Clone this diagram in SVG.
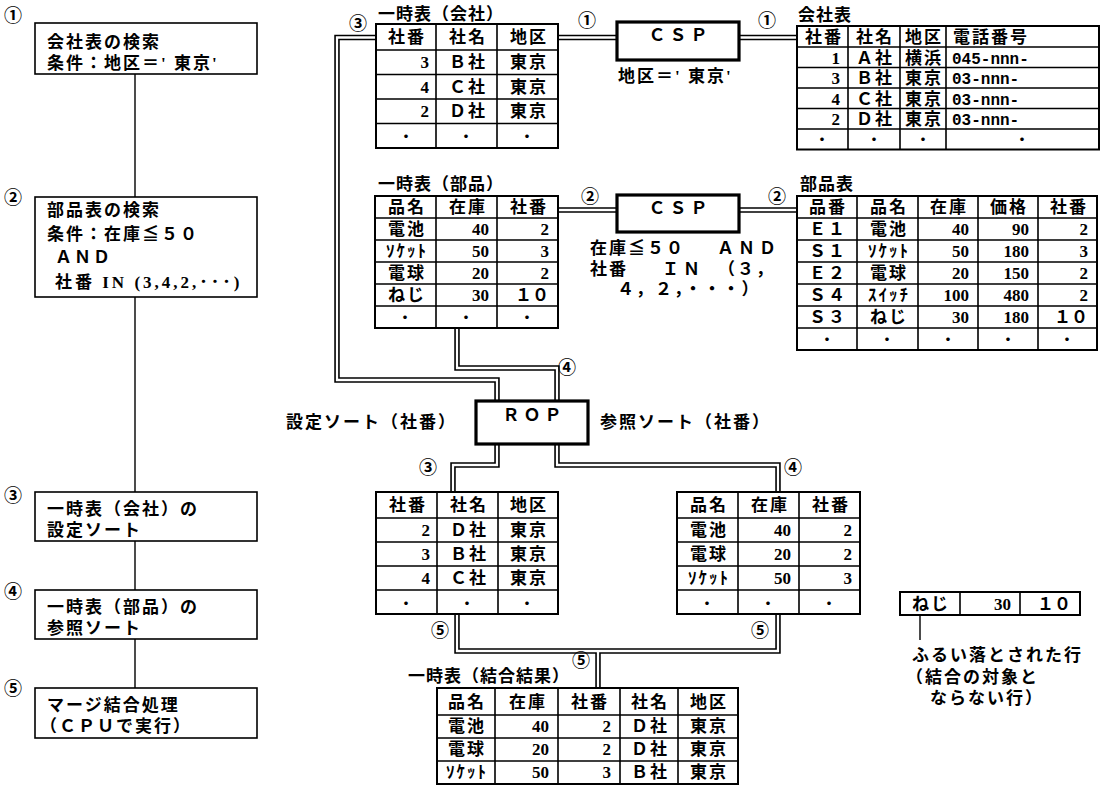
<svg xmlns="http://www.w3.org/2000/svg" width="1105" height="788" viewBox="0 0 1105 788">
<style>
text{font-family:"Liberation Serif","Noto Sans CJK JP",serif;font-size:17px;font-weight:bold;fill:#000}
.j{letter-spacing:2px}
.k{letter-spacing:1px}
.w{letter-spacing:4px}
.c{text-anchor:middle}
.r{text-anchor:end}
.m{font-family:"Liberation Mono","Noto Sans CJK JP",monospace;font-size:16px}
.n{font-family:"Noto Sans CJK JP",sans-serif;font-size:18px;font-weight:bold}
.d{font-family:"Noto Sans CJK JP",sans-serif;font-size:14px}
.box{fill:#fff;stroke:#000;stroke-width:1.6}
.op{fill:#fff;stroke:#000;stroke-width:3.2}
.tb{fill:#fff;stroke:#000;stroke-width:2}
.gr{stroke:#000;stroke-width:1.6;fill:none}
.ln{stroke:#000;stroke-width:1.4;fill:none}
.dbo{fill:none;stroke:#000;stroke-width:5.5}
.dbi{fill:none;stroke:#fff;stroke-width:2.3}
</style>
<defs>
<path id="p1" d="M376 37.5H337V380H497V401"/>
<path id="p2" d="M558 37.5H617"/>
<path id="p3" d="M739 37.5H797"/>
<path id="p4" d="M558 210H617"/>
<path id="p5" d="M739 210H797"/>
<path id="p6" d="M457 328V368H557V401"/>
<path id="p7" d="M497 444V465H453V492"/>
<path id="p8" d="M557 444V465H778V492"/>
<path id="p9" d="M457 614V651H778V614"/>
<path id="p10" d="M598 651V688"/>
</defs>

<!-- left flowchart -->
<g id="flow-lines">
<path class="ln" d="M135 74V197M135 297V492M135 541V590M135 639V688M920 615V640"/>
</g>
<g id="step1">
<text class="n c" x="13" y="22">①</text>
<rect class="box" x="35" y="23" width="222" height="51"/>
<text class="j" x="47" y="48">会社表の検索</text>
<text class="j" x="47" y="69">条件：地区＝' 東京'</text>
</g>
<g id="step2">
<text class="n c" x="13" y="204">②</text>
<rect class="box" x="35" y="197" width="222" height="100"/>
<text class="j" x="47" y="216">部品表の検索</text>
<text class="j" x="47" y="240">条件：在庫≦５０</text>
<text class="j" x="55" y="263">ＡＮＤ</text>
<text x="55" y="288" style="letter-spacing:3px">社番 IN (3,4,2,･･･)</text>
</g>
<g id="step3">
<text class="n c" x="13" y="502">③</text>
<rect class="box" x="35" y="492" width="222" height="49"/>
<text class="j" x="47" y="515">一時表（会社）の</text>
<text class="j" x="47" y="536">設定ソート</text>
</g>
<g id="step4">
<text class="n c" x="13" y="598">④</text>
<rect class="box" x="35" y="590" width="222" height="49"/>
<text class="j" x="47" y="613">一時表（部品）の</text>
<text class="j" x="47" y="634">参照ソート</text>
</g>
<g id="step5">
<text class="n c" x="13" y="695">⑤</text>
<rect class="box" x="35" y="688" width="222" height="50"/>
<text class="j" x="47" y="711">マージ結合処理</text>
<text class="j" x="40" y="732">（ＣＰＵで実行）</text>
</g>

<!-- connectors -->
<g id="connectors">
<use href="#p1" class="dbo"/><use href="#p2" class="dbo"/><use href="#p3" class="dbo"/><use href="#p4" class="dbo"/><use href="#p5" class="dbo"/>
<use href="#p6" class="dbo"/><use href="#p7" class="dbo"/><use href="#p8" class="dbo"/><use href="#p9" class="dbo"/><use href="#p10" class="dbo"/>
<use href="#p1" class="dbi"/><use href="#p2" class="dbi"/><use href="#p3" class="dbi"/><use href="#p4" class="dbi"/><use href="#p5" class="dbi"/>
<use href="#p6" class="dbi"/><use href="#p7" class="dbi"/><use href="#p8" class="dbi"/><use href="#p9" class="dbi"/><use href="#p10" class="dbi"/>
<text class="n c" x="358" y="30">③</text>
<text class="n c" x="587" y="27">①</text>
<text class="n c" x="767" y="27">①</text>
<text class="n c" x="590" y="203">②</text>
<text class="n c" x="777" y="203">②</text>
<text class="n c" x="567" y="374">④</text>
<text class="n c" x="428" y="474">③</text>
<text class="n c" x="793" y="474">④</text>
<text class="n c" x="440" y="637">⑤</text>
<text class="n c" x="760" y="637">⑤</text>
<text class="n c" x="581" y="667">⑤</text>
</g>

<!-- 一時表（会社） -->
<g id="tmp-company">
<text class="k" x="378" y="20">一時表（会社）</text>
<rect class="tb" x="376" y="24" width="182" height="124"/>
<path class="gr" d="M376 50H558M376 74.5H558M376 99H558M376 123.5H558M436 24V148M497 24V148"/>
<text class="j c" x="407" y="43">社番</text><text class="j c" x="468" y="43">社名</text><text class="j c" x="529" y="43">地区</text>
<text class="r" x="429" y="68">3</text><text class="j c" x="468" y="68">Ｂ社</text><text class="j c" x="529" y="68">東京</text>
<text class="r" x="429" y="93">4</text><text class="j c" x="468" y="93">Ｃ社</text><text class="j c" x="529" y="93">東京</text>
<text class="r" x="429" y="117">2</text><text class="j c" x="468" y="117">Ｄ社</text><text class="j c" x="529" y="117">東京</text>
<text class="d c" x="406" y="141">・</text><text class="d c" x="466" y="141">・</text><text class="d c" x="527" y="141">・</text>
</g>

<!-- CSP 1 -->
<g id="csp1">
<rect class="op" x="617" y="22" width="122" height="38"/>
<text class="w c" x="680" y="41">ＣＳＰ</text>
<text class="j" x="618" y="82">地区＝' 東京'</text>
</g>

<!-- 会社表 -->
<g id="company">
<text class="k" x="798" y="21">会社表</text>
<rect class="tb" x="797" y="26" width="302" height="123.5"/>
<path class="gr" d="M797 47H1099M797 67.5H1099M797 88H1099M797 108.5H1099M797 129H1099M848 26V149.5M900 26V149.5M946 26V149.5"/>
<text class="j c" x="824" y="42.5">社番</text><text class="j c" x="875" y="42.5">社名</text><text class="j c" x="924" y="42.5">地区</text><text class="j" x="953" y="42.5">電話番号</text>
<text class="r" x="840" y="63.5">1</text><text class="j c" x="875" y="63.5">Ａ社</text><text class="j c" x="924" y="63.5">横浜</text><text class="m" x="952" y="63.5">045-nnn-</text>
<text class="r" x="840" y="84">3</text><text class="j c" x="875" y="84">Ｂ社</text><text class="j c" x="924" y="84">東京</text><text class="m" x="952" y="84">03-nnn-</text>
<text class="r" x="840" y="104.5">4</text><text class="j c" x="875" y="104.5">Ｃ社</text><text class="j c" x="924" y="104.5">東京</text><text class="m" x="952" y="104.5">03-nnn-</text>
<text class="r" x="840" y="125">2</text><text class="j c" x="875" y="125">Ｄ社</text><text class="j c" x="924" y="125">東京</text><text class="m" x="952" y="125">03-nnn-</text>
<text class="d c" x="822" y="144">・</text><text class="d c" x="874" y="144">・</text><text class="d c" x="923" y="144">・</text><text class="d c" x="1022" y="144">・</text>
</g>

<!-- 一時表（部品） -->
<g id="tmp-parts">
<text class="k" x="378" y="190">一時表（部品）</text>
<rect class="tb" x="375" y="196" width="183" height="132"/>
<path class="gr" d="M375 218H558M375 240H558M375 262H558M375 284H558M375 306H558M436 196V328M497 196V328"/>
<text class="j c" x="407" y="213">品名</text><text class="j c" x="468" y="213">在庫</text><text class="j c" x="529" y="213">社番</text>
<text class="j c" x="407" y="235">電池</text><text class="r" x="489" y="235">40</text><text class="r" x="549" y="235">2</text>
<text class="j c" x="407" y="257">ｿｹｯﾄ</text><text class="r" x="489" y="257">50</text><text class="r" x="549" y="257">3</text>
<text class="j c" x="407" y="279">電球</text><text class="r" x="489" y="279">20</text><text class="r" x="549" y="279">2</text>
<text class="j c" x="407" y="301">ねじ</text><text class="r" x="489" y="301">30</text><text class="r" x="549" y="301">１０</text>
<text class="d c" x="405" y="322">・</text><text class="d c" x="466" y="322">・</text><text class="d c" x="527" y="322">・</text>
</g>

<!-- CSP 2 -->
<g id="csp2">
<rect class="op" x="617" y="195" width="122" height="37"/>
<text class="w c" x="680" y="214">ＣＳＰ</text>
<text class="j" x="590" y="254">在庫≦５０</text><text class="w" x="717" y="254">ＡＮＤ</text>
<text class="j" x="590" y="275">社番</text><text class="w" x="662" y="275">ＩＮ</text><text class="j" x="718" y="275">（３，</text>
<text class="j" x="617" y="295">４，２，・・・）</text>
</g>

<!-- 部品表 -->
<g id="parts">
<text class="k" x="800" y="190">部品表</text>
<rect class="tb" x="797" y="196" width="300" height="154"/>
<path class="gr" d="M797 218H1097M797 240H1097M797 262H1097M797 284H1097M797 306H1097M797 328H1097M857 196V350M918 196V350M978 196V350M1038 196V350"/>
<text class="j c" x="828" y="213">品番</text><text class="j c" x="889" y="213">品名</text><text class="j c" x="949" y="213">在庫</text><text class="j c" x="1009" y="213">価格</text><text class="j c" x="1069" y="213">社番</text>
<text class="j c" x="828" y="235">Ｅ１</text><text class="j c" x="889" y="235">電池</text><text class="r" x="969" y="235">40</text><text class="r" x="1029" y="235">90</text><text class="r" x="1088" y="235">2</text>
<text class="j c" x="828" y="257">Ｓ１</text><text class="j c" x="889" y="257">ｿｹｯﾄ</text><text class="r" x="969" y="257">50</text><text class="r" x="1029" y="257">180</text><text class="r" x="1088" y="257">3</text>
<text class="j c" x="828" y="279">Ｅ２</text><text class="j c" x="889" y="279">電球</text><text class="r" x="969" y="279">20</text><text class="r" x="1029" y="279">150</text><text class="r" x="1088" y="279">2</text>
<text class="j c" x="828" y="301">Ｓ４</text><text class="j c" x="889" y="301">ｽｲｯﾁ</text><text class="r" x="969" y="301">100</text><text class="r" x="1029" y="301">480</text><text class="r" x="1088" y="301">2</text>
<text class="j c" x="828" y="323">Ｓ３</text><text class="j c" x="889" y="323">ねじ</text><text class="r" x="969" y="323">30</text><text class="r" x="1029" y="323">180</text><text class="r" x="1088" y="323">１０</text>
<text class="d c" x="827" y="344">・</text><text class="d c" x="887" y="344">・</text><text class="d c" x="948" y="344">・</text><text class="d c" x="1008" y="344">・</text><text class="d c" x="1067" y="344">・</text>
</g>

<!-- ROP -->
<g id="rop">
<rect class="op" x="476" y="401" width="112" height="43"/>
<text class="w c" x="534" y="421">ＲＯＰ</text>
<text class="j" x="286" y="428">設定ソート（社番）</text>
<text class="j" x="600" y="428">参照ソート（社番）</text>
</g>

<!-- sorted 会社 -->
<g id="sorted-company">
<rect class="tb" x="376" y="492" width="182" height="122"/>
<path class="gr" d="M376 518H558M376 542H558M376 566H558M376 590H558M437 492V614M498 492V614"/>
<text class="j c" x="408" y="511">社番</text><text class="j c" x="469" y="511">社名</text><text class="j c" x="529" y="511">地区</text>
<text class="r" x="430" y="536">2</text><text class="j c" x="469" y="536">Ｄ社</text><text class="j c" x="529" y="536">東京</text>
<text class="r" x="430" y="560">3</text><text class="j c" x="469" y="560">Ｂ社</text><text class="j c" x="529" y="560">東京</text>
<text class="r" x="430" y="584">4</text><text class="j c" x="469" y="584">Ｃ社</text><text class="j c" x="529" y="584">東京</text>
<text class="d c" x="406" y="608">・</text><text class="d c" x="467" y="608">・</text><text class="d c" x="527" y="608">・</text>
</g>

<!-- sorted 部品 -->
<g id="sorted-parts">
<rect class="tb" x="677" y="492" width="183" height="122"/>
<path class="gr" d="M677 518H860M677 542H860M677 566H860M677 590H860M738 492V614M799 492V614"/>
<text class="j c" x="709" y="511">品名</text><text class="j c" x="770" y="511">在庫</text><text class="j c" x="831" y="511">社番</text>
<text class="j c" x="709" y="536">電池</text><text class="r" x="791" y="536">40</text><text class="r" x="852" y="536">2</text>
<text class="j c" x="709" y="560">電球</text><text class="r" x="791" y="560">20</text><text class="r" x="852" y="560">2</text>
<text class="j c" x="709" y="584">ｿｹｯﾄ</text><text class="r" x="791" y="584">50</text><text class="r" x="852" y="584">3</text>
<text class="d c" x="707" y="608">・</text><text class="d c" x="768" y="608">・</text><text class="d c" x="829" y="608">・</text>
</g>

<!-- 結合結果 -->
<g id="result">
<text class="k" x="408" y="682">一時表（結合結果）</text>
<rect class="tb" x="437" y="688" width="301" height="96"/>
<path class="gr" d="M437 715H738M437 738H738M437 761H738M495 688V784M558 688V784M620 688V784M678 688V784"/>
<text class="j c" x="467" y="708">品名</text><text class="j c" x="528" y="708">在庫</text><text class="j c" x="590" y="708">社番</text><text class="j c" x="650" y="708">社名</text><text class="j c" x="709" y="708">地区</text>
<text class="j c" x="467" y="732">電池</text><text class="r" x="549" y="732">40</text><text class="r" x="611" y="732">2</text><text class="j c" x="650" y="732">Ｄ社</text><text class="j c" x="709" y="732">東京</text>
<text class="j c" x="467" y="755">電球</text><text class="r" x="549" y="755">20</text><text class="r" x="611" y="755">2</text><text class="j c" x="650" y="755">Ｄ社</text><text class="j c" x="709" y="755">東京</text>
<text class="j c" x="467" y="778">ｿｹｯﾄ</text><text class="r" x="549" y="778">50</text><text class="r" x="611" y="778">3</text><text class="j c" x="650" y="778">Ｂ社</text><text class="j c" x="709" y="778">東京</text>
</g>

<!-- removed row -->
<g id="removed-row">
<rect class="tb" x="900" y="592" width="180" height="23"/>
<path class="gr" d="M960 592V615M1020 592V615"/>
<text class="j c" x="931" y="610">ねじ</text><text class="r" x="1011" y="610">30</text><text class="r" x="1071" y="610">１０</text>
<text class="j" x="912" y="661">ふるい落とされた行</text>
<text class="j" x="906" y="683">（結合の対象と</text>
<text class="j" x="930" y="704">ならない行）</text>
</g>
</svg>
